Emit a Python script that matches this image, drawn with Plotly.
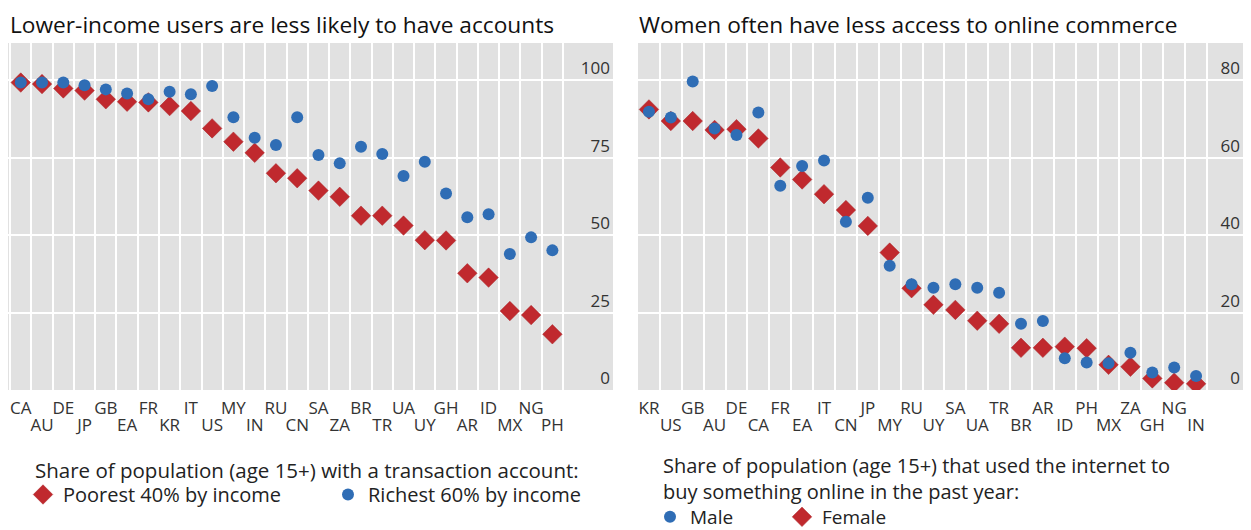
"""
Two dot charts: transaction accounts by income, online shopping by gender
"""

import plotly.graph_objects as go

# Painel esquerdo: contas de transação
paises_conta = ["CA", "AU", "DE", "JP", "GB", "EA", "FR", "KR", "IT", "US", "MY", "IN", "RU",
                "CN", "SA", "ZA", "BR", "TR", "UA", "UY", "GH", "AR", "ID", "MX", "NG", "PH"]
mais_pobres = [99.3, 98.8, 97.4, 96.7, 93.9, 93.1, 92.9, 91.7, 90.1, 84.5, 80.2, 76.6, 70.0,
               68.4, 64.4, 62.4, 56.3, 56.3, 53.1, 48.4, 48.3, 37.7, 36.3, 25.5, 24.2, 18.0]
mais_ricos = [99.3, 99.3, 99.3, 98.4, 97.1, 95.8, 93.9, 96.3, 95.5, 98.2, 88.1, 81.5, 79.1,
              88.1, 75.9, 73.2, 78.6, 76.2, 69.1, 73.7, 63.5, 55.8, 56.8, 43.9, 49.3, 45.1]
ticks_conta = [0, 25, 50, 75, 100]

# Painel direito: compras online
paises_online = ["KR", "US", "GB", "AU", "DE", "CA", "FR", "EA", "IT", "CN", "JP", "MY", "RU",
                 "UY", "SA", "UA", "TR", "BR", "AR", "ID", "PH", "MX", "ZA", "GH", "NG", "IN"]
homens = [71.9, 70.4, 79.7, 67.6, 65.9, 71.7, 52.8, 57.9, 59.3, 43.5, 49.7, 32.1, 27.3,
          26.4, 27.3, 26.4, 25.1, 17.1, 17.8, 8.2, 7.1, 6.9, 9.6, 4.5, 5.8, 3.6]
mulheres = [72.5, 69.5, 69.5, 67.2, 67.4, 65.0, 57.5, 54.4, 50.6, 46.5, 42.4, 35.5, 26.3,
            22.0, 20.7, 17.9, 17.1, 10.9, 10.9, 11.2, 10.8, 6.5, 6.0, 3.0, 1.9, 1.6]
ticks_online = [0, 20, 40, 60, 80]

VERMELHO = '#C0292E'
AZUL = '#2F6DB5'
CINZA = '#E1E1E1'
FONTE = 'Open Sans'
W, H = 1251, 530
TOP, BOTTOM = 43, 390


def px_y(p):
    return (BOTTOM - p) / (BOTTOM - TOP)


pos_conta = list(range(len(paises_conta)))
pos_online = list(range(len(paises_online)))

fig = go.Figure()

# losangos no eixo base; círculos no eixo sobreposto (ficam por cima)
fig.add_trace(go.Scatter(
    x=pos_conta, y=mais_pobres, mode='markers', name='Poorest 40% by income',
    marker=dict(symbol='diamond', size=15, color=VERMELHO, line=dict(color='#A82227', width=0.5)),
    xaxis='x', yaxis='y', legend='legend', customdata=paises_conta,
    hovertemplate='%{customdata}: %{y:.0f}<extra></extra>'
))
fig.add_trace(go.Scatter(
    x=pos_conta, y=mais_ricos, mode='markers', name='Richest 60% by income',
    marker=dict(symbol='circle', size=12, color=AZUL),
    xaxis='x3', yaxis='y', legend='legend', customdata=paises_conta,
    hovertemplate='%{customdata}: %{y:.0f}<extra></extra>'
))
fig.add_trace(go.Scatter(
    x=pos_online, y=mulheres, mode='markers', name='Female',
    marker=dict(symbol='diamond', size=15, color=VERMELHO, line=dict(color='#A82227', width=0.5)),
    xaxis='x2', yaxis='y2', legend='legend2', customdata=paises_online,
    hovertemplate='%{customdata}: %{y:.0f}<extra></extra>'
))
fig.add_trace(go.Scatter(
    x=pos_online, y=homens, mode='markers', name='Male',
    marker=dict(symbol='circle', size=12, color=AZUL),
    xaxis='x4', yaxis='y2', legend='legend2', customdata=paises_online,
    hovertemplate='%{customdata}: %{y:.0f}<extra></extra>'
))

fonte_eixo = dict(family=FONTE, size=17, color='#333333')


def eixo_x(pos, paises, dominio, faixa, linha):
    # linha 0: rótulos de cima (pares) + grade nas fronteiras; linha 1: rótulos de baixo
    base = dict(
        domain=dominio, range=faixa, showgrid=False, ticks='', showline=False,
        zeroline=False, tickangle=0, automargin=False, tickfont=fonte_eixo,
        tickvals=pos[linha::2], ticktext=paises[linha::2],
        ticklabelstandoff=6 + 17 * linha
    )
    if linha == 0:
        base['minor'] = dict(tickvals=[p - 0.5 for p in pos + [len(pos)]],
                             showgrid=True, gridcolor='white', gridwidth=2, ticks='')
    return base


eixo_y = dict(
    side='right', ticklabelposition='inside top', showgrid=True, gridcolor='white',
    gridwidth=2, zeroline=False, showline=False, ticks='', automargin=False,
    tickfont=fonte_eixo
)

legenda = dict(
    xanchor='left', yanchor='top', orientation='h',
    font=dict(family=FONTE, size=20, color='#222222'),
    bgcolor='rgba(0,0,0,0)', entrywidthmode='pixels'
)

texto = dict(xref='paper', yref='paper', xanchor='left', showarrow=False)

faixa_conta = [-0.6, 25.5 + 50 / 21.27]
faixa_online = [-0.5, 25.5 + 36 / 21.9]
dom_conta = [8 / W, 613 / W]
dom_online = [638 / W, 1243 / W]

fig.update_layout(
    width=W, height=H,
    paper_bgcolor='white', plot_bgcolor=CINZA,
    margin=dict(l=0, r=0, t=TOP, b=H - BOTTOM, autoexpand=False),
    font=dict(family=FONTE, color='#222222'),
    xaxis=dict(eixo_x(pos_conta, paises_conta, dom_conta, faixa_conta, 0), anchor='y'),
    xaxis3=dict(eixo_x(pos_conta, paises_conta, dom_conta, faixa_conta, 1),
                anchor='y', overlaying='x'),
    yaxis=dict(eixo_y, domain=[0, 1], anchor='x',
               range=[0, 25 * (BOTTOM - TOP) / 77.4], tickvals=ticks_conta),
    xaxis2=dict(eixo_x(pos_online, paises_online, dom_online, faixa_online, 0), anchor='y2'),
    xaxis4=dict(eixo_x(pos_online, paises_online, dom_online, faixa_online, 1),
                anchor='y2', overlaying='x2'),
    yaxis2=dict(eixo_y, domain=[0, 1], anchor='x2',
                range=[0, 20 * (BOTTOM - TOP) / 77.4], tickvals=ticks_online),
    legend=dict(legenda, x=23 / W, y=px_y(475), entrywidth=260),
    legend2=dict(legenda, x=650 / W, y=px_y(498), traceorder='reversed', entrywidth=87,
                 font=dict(family=FONTE, size=19, color='#222222')),
    annotations=[
        dict(texto, text='Lower-income users are less likely to have accounts',
             x=8 / W, y=px_y(25), yanchor='middle',
             font=dict(family=FONTE, size=22.7, color='#111111')),
        dict(texto, text='Women often have less access to online commerce',
             x=637 / W, y=px_y(25), yanchor='middle',
             font=dict(family=FONTE, size=22.7, color='#111111')),
        dict(texto, text='Share of population (age 15+) with a transaction account:',
             x=33 / W, y=px_y(470), yanchor='middle',
             font=dict(family=FONTE, size=20.5, color='#222222')),
        dict(texto, text='Share of population (age 15+) that used the internet to<br>'
                         'buy something online in the past year:',
             x=661 / W, y=px_y(450), yanchor='top', align='left',
             font=dict(family=FONTE, size=20, color='#222222')),
    ]
)

# sem a margem padrão do <body>, a figura ocupa a janela exatamente
fig.write_html("out.html", config={'displayModeBar': False},
               post_script="document.body.style.margin='0';")
